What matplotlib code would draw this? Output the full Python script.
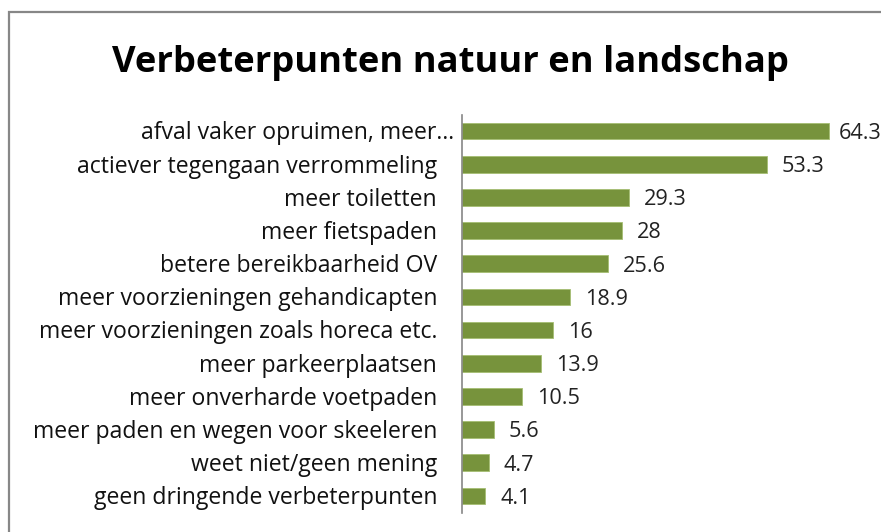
import matplotlib
matplotlib.use("Agg")
import matplotlib.pyplot as plt
from matplotlib.patches import Rectangle
from matplotlib.transforms import offset_copy

categories = [
    "afval vaker opruimen, meer…",
    "actiever tegengaan verrommeling",
    "meer toiletten",
    "meer fietspaden",
    "betere bereikbaarheid OV",
    "meer voorzieningen gehandicapten",
    "meer voorzieningen zoals horeca etc.",
    "meer parkeerplaatsen",
    "meer onverharde voetpaden",
    "meer paden en wegen voor skeeleren",
    "weet niet/geen mening",
    "geen dringende verbeterpunten",
]
values = [64.3, 53.3, 29.3, 28, 25.6, 18.9, 16, 13.9, 10.5, 5.6, 4.7, 4.1]
value_labels = ["64.3", "53.3", "29.3", "28", "25.6", "18.9", "16", "13.9", "10.5", "5.6", "4.7", "4.1"]
title = "Verbeterpunten natuur en landschap"

plt.rcParams['font.family'] = ['Open Sans', 'DejaVu Sans']

W, H = 881, 532
fig = plt.figure(figsize=(W/100, H/100), dpi=100)
fig.patch.set_facecolor("white")

# outer chart frame
fig.patches.append(Rectangle((9/W, -0.1), 1.1, 1 - 12/H + 0.1, transform=fig.transFigure,
                             fill=False, edgecolor="#878787", linewidth=1.6, clip_on=False))

left, right = 462/W, 862/W
top, bottom = 1 - 114.5/H, 1 - 512.5/H
ax = fig.add_axes([left, bottom, right - left, top - bottom])

n = len(categories)
ypos = list(range(n))
ax.barh(ypos, values, height=0.5, color="#77933C", edgecolor="#A5BE72", linewidth=0.6)
ax.set_ylim(n - 0.5, -0.5)
ax.set_xlim(0, 70)

for y, v, lab in zip(ypos, values, value_labels):
    ax.text(min(v + 2.6, 66.0), y + 0.07, lab, va="center", ha="left", fontsize=15.6,
            color="#222222", clip_on=False)

# category labels (right-aligned left of the axis; the truncated first one runs closer)
ytrans = ax.get_yaxis_transform()
for i, (y, lab) in enumerate(zip(ypos, categories)):
    off = -8 if lab.endswith("…") else -25
    ax.text(0, y + 0.07, lab, transform=offset_copy(ytrans, fig=fig, x=off, units="dots"),
            ha="right", va="center", fontsize=16.6, color="#111111", clip_on=False)

ax.set_yticks([])
ax.set_xticks([])
for s in ["top", "right", "bottom"]:
    ax.spines[s].set_visible(False)
ax.spines["left"].set_color("#868686")
ax.spines["left"].set_linewidth(1.2)

fig.text(450/W, 1 - 63/H, title, ha="center", va="center", fontsize=26.2, fontweight="bold", color="black")

fig.savefig("out.png", dpi=100)
